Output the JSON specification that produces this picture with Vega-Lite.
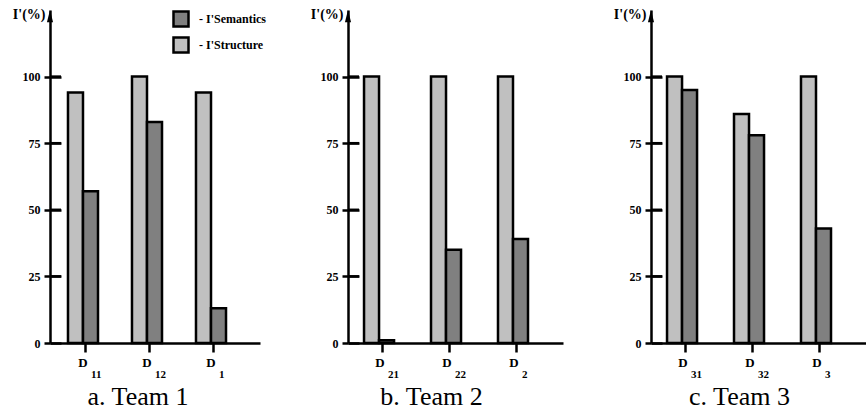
{
  "$schema": "https://vega.github.io/schema/vega-lite/v6.json",
  "autosize": {"type": "pad"},
  "padding": {"left": 12, "top": 7, "right": 0, "bottom": 0},
  "background": "white",
  "spacing": 88,
  "bounds": "flush",
  "datasets": {
    "t1": [
      {"doc": "D11", "sub": "11", "series": "Structure", "value": 94},
      {"doc": "D11", "sub": "11", "series": "Semantics", "value": 57},
      {"doc": "D12", "sub": "12", "series": "Structure", "value": 100},
      {"doc": "D12", "sub": "12", "series": "Semantics", "value": 83},
      {"doc": "D1", "sub": "1", "series": "Structure", "value": 94},
      {"doc": "D1", "sub": "1", "series": "Semantics", "value": 13}
    ],
    "t2": [
      {"doc": "D21", "sub": "21", "series": "Structure", "value": 100},
      {"doc": "D21", "sub": "21", "series": "Semantics", "value": 1},
      {"doc": "D22", "sub": "22", "series": "Structure", "value": 100},
      {"doc": "D22", "sub": "22", "series": "Semantics", "value": 35},
      {"doc": "D2", "sub": "2", "series": "Structure", "value": 100},
      {"doc": "D2", "sub": "2", "series": "Semantics", "value": 39}
    ],
    "t3": [
      {"doc": "D31", "sub": "31", "series": "Structure", "value": 100},
      {"doc": "D31", "sub": "31", "series": "Semantics", "value": 95},
      {"doc": "D32", "sub": "32", "series": "Structure", "value": 86},
      {"doc": "D32", "sub": "32", "series": "Semantics", "value": 78},
      {"doc": "D3", "sub": "3", "series": "Structure", "value": 100},
      {"doc": "D3", "sub": "3", "series": "Semantics", "value": 43}
    ],
    "yticks": [{"tick": 25}, {"tick": 50}, {"tick": 75}, {"tick": 100}]
  },
  "hconcat": [
    {
      "width": 210, "height": 333,
      "data": {"name": "t1"},
      "title": {"text": "a. Team 1", "orient": "bottom", "anchor": "middle", "dx": -17, "offset": 4},
      "layer": [
        {
          "mark": {"type": "bar", "stroke": "black", "strokeWidth": 2.5},
          "encoding": {
            "x": {"field": "doc", "type": "nominal", "sort": null, "scale": {"type": "band", "paddingInner": 0.531, "paddingOuter": 0.406, "align": 0.346}, "axis": {"title": null, "labelExpr": "'D'", "labelAngle": 0, "tickSize": 9, "bandPosition": 0.57, "labelPadding": 4, "labelFontSize": 13}},
            "xOffset": {"field": "series", "type": "nominal", "scale": {"domain": ["Structure", "Semantics"], "paddingInner": 0, "paddingOuter": 0}},
            "y": {"field": "value", "type": "quantitative", "scale": {"domain": [0, 125], "nice": false}, "axis": {"values": [0, 25, 50, 75, 100], "tickSize": 6, "labelPadding": 4, "grid": true, "gridColor": "black", "gridWidth": 2.5, "gridOpacity": 1, "gridDash": [11, 1000], "title": "I'(%)", "titleAngle": 0, "titleAlign": "right", "titleBaseline": "alphabetic", "titleX": -5, "titleY": 8, "titleFontSize": 14, "titleFontWeight": "bold", "titleFont": "Liberation Serif", "titleColor": "black"}},
            "color": {"field": "series", "type": "nominal", "scale": {"domain": ["Semantics", "Structure"], "range": ["#808080", "#c0c0c0"]}, "legend": {"orient": "none", "legendX": 122, "legendY": 0, "labelExpr": "\"- I'\" + datum.label"}}
          }
        },
        {
          "data": {"name": "yticks"},
          "mark": {"type": "rule", "color": "black", "strokeWidth": 2.5, "opacity": 1},
          "encoding": {
            "x": {"datum": 0, "type": "quantitative", "scale": {"domain": [0, 1], "nice": false, "zero": false}, "axis": null},
            "x2": {"datum": 0.0524},
            "y": {"field": "tick", "type": "quantitative", "scale": {"domain": [0, 125], "nice": false}, "axis": null}
          }
        },
        {
          "data": {"values": [{}]},
          "mark": {"type": "point", "shape": "M0,-1L0.5,1L-0.5,1Z", "filled": true, "color": "black", "size": 150, "opacity": 1},
          "encoding": {
            "x": {"datum": 0, "type": "quantitative", "scale": {"domain": [0, 1], "nice": false}, "axis": null},
            "y": {"datum": 122.7, "type": "quantitative", "scale": {"domain": [0, 125], "nice": false}, "axis": null}
          }
        },
        {
          "transform": [{"filter": "datum.series === 'Structure'"}],
          "mark": {"type": "text", "font": "Liberation Serif", "fontWeight": "bold", "fontSize": 11, "align": "left", "baseline": "top", "dx": 8, "dy": 26, "color": "black"},
          "encoding": {
            "x": {"field": "doc", "type": "nominal", "sort": null, "scale": {"type": "band", "paddingInner": 0.531, "paddingOuter": 0.406, "align": 0.346}, "axis": null},
            "y": {"datum": 0, "type": "quantitative", "scale": {"domain": [0, 125], "nice": false}, "axis": null},
            "text": {"field": "sub"}
          }
        }
      ],
      "resolve": {"scale": {"x": "independent", "y": "independent"}, "axis": {"y": "independent"}}
    },
    {
      "width": 215, "height": 333,
      "data": {"name": "t2"},
      "title": {"text": "b. Team 2", "orient": "bottom", "anchor": "middle", "dx": -24, "offset": 4},
      "layer": [
        {
          "mark": {"type": "bar", "stroke": "black", "strokeWidth": 2.5},
          "encoding": {
            "x": {"field": "doc", "type": "nominal", "sort": null, "scale": {"type": "band", "paddingInner": 0.522, "paddingOuter": 0.366, "align": 0.327}, "axis": {"title": null, "labelExpr": "'D'", "labelAngle": 0, "tickSize": 9, "bandPosition": 0.57, "labelPadding": 4, "labelFontSize": 13}},
            "xOffset": {"field": "series", "type": "nominal", "scale": {"domain": ["Structure", "Semantics"], "paddingInner": 0, "paddingOuter": 0}},
            "y": {"field": "value", "type": "quantitative", "scale": {"domain": [0, 125], "nice": false}, "axis": {"values": [0, 25, 50, 75, 100], "tickSize": 6, "labelPadding": 4, "grid": true, "gridColor": "black", "gridWidth": 2.5, "gridOpacity": 1, "gridDash": [11, 1000], "title": "I'(%)", "titleAngle": 0, "titleAlign": "right", "titleBaseline": "alphabetic", "titleX": -5, "titleY": 8, "titleFontSize": 14, "titleFontWeight": "bold", "titleFont": "Liberation Serif", "titleColor": "black"}},
            "color": {"field": "series", "type": "nominal", "scale": {"domain": ["Semantics", "Structure"], "range": ["#808080", "#c0c0c0"]}, "legend": {"orient": "none", "legendX": 125, "legendY": 0, "labelExpr": "\"- I'\" + datum.label"}}
          }
        },
        {
          "data": {"name": "yticks"},
          "mark": {"type": "rule", "color": "black", "strokeWidth": 2.5, "opacity": 1},
          "encoding": {
            "x": {"datum": 0, "type": "quantitative", "scale": {"domain": [0, 1], "nice": false, "zero": false}, "axis": null},
            "x2": {"datum": 0.0512},
            "y": {"field": "tick", "type": "quantitative", "scale": {"domain": [0, 125], "nice": false}, "axis": null}
          }
        },
        {
          "data": {"values": [{}]},
          "mark": {"type": "point", "shape": "M0,-1L0.5,1L-0.5,1Z", "filled": true, "color": "black", "size": 150, "opacity": 1},
          "encoding": {
            "x": {"datum": 0, "type": "quantitative", "scale": {"domain": [0, 1], "nice": false}, "axis": null},
            "y": {"datum": 122.7, "type": "quantitative", "scale": {"domain": [0, 125], "nice": false}, "axis": null}
          }
        },
        {
          "transform": [{"filter": "datum.series === 'Structure'"}],
          "mark": {"type": "text", "font": "Liberation Serif", "fontWeight": "bold", "fontSize": 11, "align": "left", "baseline": "top", "dx": 8, "dy": 26, "color": "black"},
          "encoding": {
            "x": {"field": "doc", "type": "nominal", "sort": null, "scale": {"type": "band", "paddingInner": 0.522, "paddingOuter": 0.366, "align": 0.327}, "axis": null},
            "y": {"datum": 0, "type": "quantitative", "scale": {"domain": [0, 125], "nice": false}, "axis": null},
            "text": {"field": "sub"}
          }
        }
      ],
      "resolve": {"scale": {"x": "independent", "y": "independent"}, "axis": {"y": "independent"}}
    },
    {
      "width": 215, "height": 333,
      "data": {"name": "t3"},
      "title": {"text": "c. Team 3", "orient": "bottom", "anchor": "middle", "dx": -19, "offset": 4},
      "layer": [
        {
          "mark": {"type": "bar", "stroke": "black", "strokeWidth": 2.5},
          "encoding": {
            "x": {"field": "doc", "type": "nominal", "sort": null, "scale": {"type": "band", "paddingInner": 0.522, "paddingOuter": 0.366, "align": 0.327}, "axis": {"title": null, "labelExpr": "'D'", "labelAngle": 0, "tickSize": 9, "bandPosition": 0.57, "labelPadding": 4, "labelFontSize": 13}},
            "xOffset": {"field": "series", "type": "nominal", "scale": {"domain": ["Structure", "Semantics"], "paddingInner": 0, "paddingOuter": 0}},
            "y": {"field": "value", "type": "quantitative", "scale": {"domain": [0, 125], "nice": false}, "axis": {"values": [0, 25, 50, 75, 100], "tickSize": 6, "labelPadding": 4, "grid": true, "gridColor": "black", "gridWidth": 2.5, "gridOpacity": 1, "gridDash": [11, 1000], "title": "I'(%)", "titleAngle": 0, "titleAlign": "right", "titleBaseline": "alphabetic", "titleX": -5, "titleY": 8, "titleFontSize": 14, "titleFontWeight": "bold", "titleFont": "Liberation Serif", "titleColor": "black"}},
            "color": {"field": "series", "type": "nominal", "scale": {"domain": ["Semantics", "Structure"], "range": ["#808080", "#c0c0c0"]}, "legend": {"orient": "none", "legendX": 125, "legendY": 0, "labelExpr": "\"- I'\" + datum.label"}}
          }
        },
        {
          "data": {"name": "yticks"},
          "mark": {"type": "rule", "color": "black", "strokeWidth": 2.5, "opacity": 1},
          "encoding": {
            "x": {"datum": 0, "type": "quantitative", "scale": {"domain": [0, 1], "nice": false, "zero": false}, "axis": null},
            "x2": {"datum": 0.0512},
            "y": {"field": "tick", "type": "quantitative", "scale": {"domain": [0, 125], "nice": false}, "axis": null}
          }
        },
        {
          "data": {"values": [{}]},
          "mark": {"type": "point", "shape": "M0,-1L0.5,1L-0.5,1Z", "filled": true, "color": "black", "size": 150, "opacity": 1},
          "encoding": {
            "x": {"datum": 0, "type": "quantitative", "scale": {"domain": [0, 1], "nice": false}, "axis": null},
            "y": {"datum": 122.7, "type": "quantitative", "scale": {"domain": [0, 125], "nice": false}, "axis": null}
          }
        },
        {
          "transform": [{"filter": "datum.series === 'Structure'"}],
          "mark": {"type": "text", "font": "Liberation Serif", "fontWeight": "bold", "fontSize": 11, "align": "left", "baseline": "top", "dx": 8, "dy": 26, "color": "black"},
          "encoding": {
            "x": {"field": "doc", "type": "nominal", "sort": null, "scale": {"type": "band", "paddingInner": 0.522, "paddingOuter": 0.366, "align": 0.327}, "axis": null},
            "y": {"datum": 0, "type": "quantitative", "scale": {"domain": [0, 125], "nice": false}, "axis": null},
            "text": {"field": "sub"}
          }
        }
      ],
      "resolve": {"scale": {"x": "independent", "y": "independent"}, "axis": {"y": "independent"}}
    }
  ],
  "config": {
    "view": {"stroke": null},
    "font": "Liberation Serif",
    "axis": {
      "domainColor": "black", "domainWidth": 2.5, "tickColor": "black", "tickWidth": 2.5,
      "labelFont": "Liberation Serif", "labelFontWeight": "bold", "labelFontSize": 12, "labelColor": "black"
    },
    "axisX": {"grid": false},
    "legend": {
      "title": null, "symbolType": "square", "symbolSize": 225, "symbolStrokeColor": "black", "symbolStrokeWidth": 2.5, "symbolOpacity": 1,
      "labelFont": "Liberation Serif", "labelFontWeight": "bold", "labelFontSize": 12, "labelColor": "black",
      "labelOffset": 9, "rowPadding": 0, "padding": 0
    },
    "title": {"font": "Liberation Serif", "fontSize": 26, "fontWeight": "normal", "color": "black"}
  }
}
